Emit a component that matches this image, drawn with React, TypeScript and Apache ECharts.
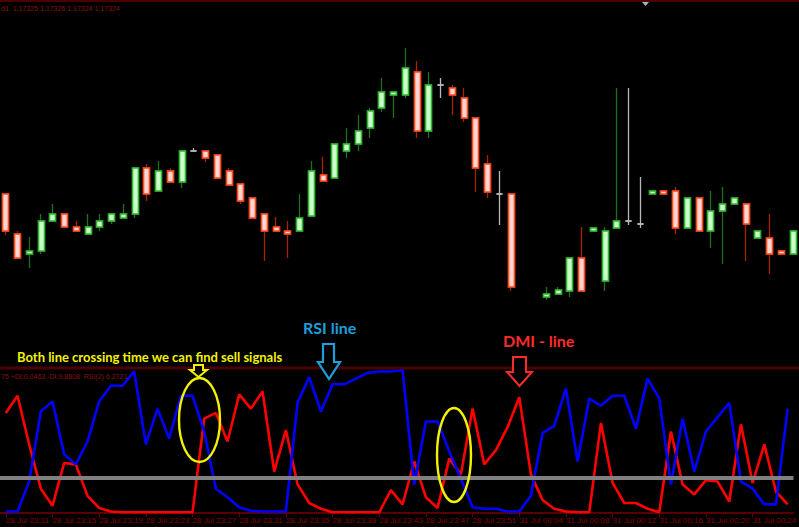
import React, { useEffect, useRef } from 'react';
import * as echarts from 'echarts';

const categories = [
  '28 Jul 23:11', '28 Jul 23:12', '28 Jul 23:13', '28 Jul 23:14', '28 Jul 23:15', '28 Jul 23:16', '28 Jul 23:17', '28 Jul 23:18',
  '28 Jul 23:19', '28 Jul 23:20', '28 Jul 23:21', '28 Jul 23:22', '28 Jul 23:23', '28 Jul 23:24', '28 Jul 23:25', '28 Jul 23:26',
  '28 Jul 23:27', '28 Jul 23:28', '28 Jul 23:29', '28 Jul 23:30', '28 Jul 23:31', '28 Jul 23:32', '28 Jul 23:33', '28 Jul 23:34',
  '28 Jul 23:35', '28 Jul 23:36', '28 Jul 23:37', '28 Jul 23:38', '28 Jul 23:39', '28 Jul 23:40', '28 Jul 23:41', '28 Jul 23:42',
  '28 Jul 23:43', '28 Jul 23:44', '28 Jul 23:45', '28 Jul 23:46', '28 Jul 23:47', '28 Jul 23:48', '28 Jul 23:49', '28 Jul 23:50',
  '28 Jul 23:51', '28 Jul 23:52', '28 Jul 23:53', '28 Jul 23:54',
  '31 Jul 00:04', '31 Jul 00:05', '31 Jul 00:06', '31 Jul 00:07', '31 Jul 00:08', '31 Jul 00:09', '31 Jul 00:10', '31 Jul 00:11',
  '31 Jul 00:12', '31 Jul 00:13', '31 Jul 00:14', '31 Jul 00:15', '31 Jul 00:16', '31 Jul 00:17', '31 Jul 00:18', '31 Jul 00:19',
  '31 Jul 00:20', '31 Jul 00:21', '31 Jul 00:22', '31 Jul 00:23', '31 Jul 00:24', '31 Jul 00:25', '31 Jul 00:26', '31 Jul 00:27',
];

// [open, close, low, high]
const candles: (number[] | null)[] = [
  [1.17361, 1.17324, 1.1732, 1.17361],
  [1.17321, 1.17297, 1.17297, 1.17324],
  [1.17301, 1.17304, 1.17287, 1.17318],
  [1.17304, 1.17334, 1.17301, 1.17341],
  [1.17334, 1.17341, 1.17334, 1.17351],
  [1.17341, 1.17328, 1.17328, 1.17341],
  [1.17328, 1.17324, 1.17324, 1.17334],
  [1.17321, 1.17328, 1.17321, 1.17341],
  [1.17328, 1.17334, 1.17324, 1.17341],
  [1.17334, 1.17341, 1.17331, 1.17341],
  [1.17337, 1.17341, 1.17337, 1.17351],
  [1.17341, 1.17387, 1.17337, 1.17387],
  [1.17387, 1.17361, 1.17354, 1.17391],
  [1.17364, 1.17384, 1.17364, 1.17394],
  [1.17384, 1.17373, 1.17373, 1.17387],
  [1.17373, 1.17404, 1.17367, 1.17404],
  [1.17404, 1.17404, 1.17404, 1.17407],
  [1.17404, 1.17397, 1.17393, 1.17404],
  [1.174, 1.17377, 1.17377, 1.174],
  [1.17384, 1.1737, 1.1737, 1.17387],
  [1.17371, 1.17354, 1.17351, 1.17371],
  [1.17357, 1.17337, 1.17337, 1.17357],
  [1.17341, 1.17324, 1.17294, 1.17341],
  [1.17328, 1.17324, 1.17324, 1.17338],
  [1.17324, 1.17321, 1.17297, 1.17334],
  [1.17324, 1.17337, 1.17324, 1.17361],
  [1.17339, 1.17384, 1.17339, 1.17394],
  [1.1738, 1.17374, 1.17374, 1.17398],
  [1.17377, 1.17411, 1.17377, 1.17411],
  [1.17404, 1.17411, 1.17397, 1.17427],
  [1.17411, 1.17424, 1.17404, 1.1744],
  [1.17427, 1.17444, 1.17417, 1.17447],
  [1.17447, 1.17463, 1.17443, 1.17477],
  [1.1746, 1.17463, 1.17437, 1.17463],
  [1.1746, 1.17487, 1.17457, 1.17507],
  [1.17483, 1.17424, 1.17417, 1.17494],
  [1.17424, 1.1747, 1.17417, 1.17483],
  [1.1747, 1.1747, 1.17457, 1.17477],
  [1.17467, 1.1746, 1.1744, 1.1747],
  [1.17457, 1.17437, 1.17433, 1.17467],
  [1.17437, 1.17387, 1.17363, 1.17437],
  [1.17391, 1.17363, 1.17357, 1.174],
  [1.17361, 1.17361, 1.1733, 1.17384],
  [1.17361, 1.17268, 1.17264, 1.17361],
  null,
  null,
  [1.17258, 1.17261, 1.17255, 1.17268],
  [1.17261, 1.17265, 1.17261, 1.17268],
  [1.17264, 1.17297, 1.17258, 1.17297],
  [1.17297, 1.17264, 1.17264, 1.17328],
  [1.17324, 1.17327, 1.17324, 1.17327],
  [1.17274, 1.17324, 1.17264, 1.17328],
  [1.17327, 1.17334, 1.17327, 1.17467],
  [1.17334, 1.17334, 1.1733, 1.17467],
  [1.17331, 1.17331, 1.17327, 1.17378],
  [1.17361, 1.17364, 1.17361, 1.17364],
  [1.17364, 1.17361, 1.17361, 1.17364],
  [1.17364, 1.17327, 1.17321, 1.17368],
  [1.17327, 1.17357, 1.17327, 1.17357],
  [1.17357, 1.17324, 1.17324, 1.17357],
  [1.17324, 1.17344, 1.17307, 1.17364],
  [1.17344, 1.17351, 1.17291, 1.17368],
  [1.17351, 1.17357, 1.17351, 1.17357],
  [1.17351, 1.17331, 1.17294, 1.17351],
  [1.17317, 1.17324, 1.17317, 1.17324],
  [1.17317, 1.17301, 1.17281, 1.17341],
  [1.17304, 1.17301, 1.17301, 1.17304],
  [1.17301, 1.17324, 1.17301, 1.17324],
];

// RSI(2) — blue line
const rsiValues = [
  1, 1, 22, 71, 78, 41, 34, 50, 78, 89, 89, 99, 48, 73, 52, 82, 82, 57, 17, 11,
  4, 1.5, 1, 1, 1, 77, 95, 71, 90, 90, 94, 98, 99, 99, 100, 20, 64, 64, 43, 24,
  4, 3, 3, 1, 1, 12, 56, 61, 87, 36, 80, 75, 82, 82, 59, 94, 80, 20, 66, 29,
  57, 67, 77, 22, 17, 6, 6, 73,
];

// DMI — red line
const dmiValues = [
  70, 82, 48, 17, 5, 35, 34, 12, 3.5, 1, 0.5, 0.5, 0.5, 0.5, 0.5, 0.5, 0.5, 66, 70, 50,
  83, 73, 85, 29, 58, 20, 7, 3, 0.5, 0.5, 0.5, 0.5, 0.5, 16, 6, 36, 11, 3.5, 38, 27,
  73, 34, 44, 60, 81, 27, 9, 3, 1, 0.5, 0.5, 63, 21, 7, 7, 3, 0.5, 57, 20, 13,
  23, 22, 8, 62, 21, 48, 15, 6,
];

const levels = [25];

const headerText = 'd1  1.17325 1.17326 1.17324 1.17324';
const indicatorText = '75 +DI:0.0463 -DI:9.8808  RSI(2) 6.2721';
const noteText = 'Both line crossing time we can find sell signals';
const rsiNote = 'RSI line';
const dmiNote = 'DMI - line';

const DOJI = '#b8b8b8';

function downArrow(sL: number, sR: number, yT: number, yH: number, hL: number, hR: number, tx: number, yB: number) {
  return [[sL, yT], [sR, yT], [sR, yH], [hR, yH], [tx, yB], [hL, yH], [sL, yH]];
}

export default function App() {
  const ref = useRef<HTMLDivElement>(null);
  useEffect(() => {
    const chart = echarts.init(ref.current!, null, { renderer: 'svg' });

    const wickData = candles.map((c) => {
      if (!c) return ['-', '-', '-', '-'];
      if (c[0] === c[1]) {
        return { value: c, itemStyle: { color: DOJI, color0: DOJI, borderColor: DOJI, borderColor0: DOJI } };
      }
      return c;
    });
    const bodyData = candles.map((c) => {
      if (!c) return ['-', '-', '-', '-'];
      const v = [c[0], c[1], Math.min(c[0], c[1]), Math.max(c[0], c[1])];
      if (c[0] === c[1]) {
        return { value: v, itemStyle: { color: DOJI, color0: DOJI, borderColor: DOJI, borderColor0: DOJI } };
      }
      return v;
    });

    const fontSans = '"Liberation Sans", Arial, sans-serif';
    const annFont = 'Lato, "Open Sans", sans-serif';

    const option: any = {
      animation: false,
      backgroundColor: '#000000',
      grid: [
        { left: -3, width: 806, top: 0, height: 368 },
        { left: -3, width: 806, top: 370, height: 143 },
      ],
      xAxis: [
        { type: 'category', gridIndex: 0, data: categories, show: false, boundaryGap: true },
        {
          type: 'category',
          gridIndex: 1,
          data: categories,
          boundaryGap: true,
          axisLine: { show: true, lineStyle: { color: '#5a0000', width: 2 } },
          axisTick: { show: true, interval: 3, alignWithLabel: true, length: 4, lineStyle: { color: '#6b0000' } },
          axisLabel: {
            show: true,
            interval: 3,
            color: '#8b0000',
            fontSize: 8,
            fontFamily: fontSans,
            align: 'left',
            margin: 3,
          },
          splitLine: { show: false },
        },
      ],
      yAxis: [
        { type: 'value', gridIndex: 0, min: 1.17187, max: 1.17555, show: false, splitLine: { show: false } },
        { type: 'value', gridIndex: 1, min: 0, max: 100, show: false, splitLine: { show: false } },
      ],
      series: [
        {
          type: 'candlestick',
          xAxisIndex: 0,
          yAxisIndex: 0,
          data: wickData,
          barWidth: 6.5,
          silent: true,
          itemStyle: {
            color: '#ccffcc',
            color0: '#ffd4d4',
            borderColor: '#1d701d',
            borderColor0: '#a82400',
            borderColorDoji: DOJI,
            borderWidth: 1.3,
          },
          z: 2,
        },
        {
          type: 'candlestick',
          xAxisIndex: 0,
          yAxisIndex: 0,
          data: bodyData,
          barWidth: 6.5,
          silent: true,
          itemStyle: {
            color: '#ccffcc',
            color0: '#ffd4d4',
            borderColor: '#2fb82f',
            borderColor0: '#ff4a1a',
            borderColorDoji: DOJI,
            borderWidth: 1.6,
          },
          z: 3,
        },
        {
          type: 'line',
          name: 'DMI',
          xAxisIndex: 1,
          yAxisIndex: 1,
          data: dmiValues,
          symbol: 'none',
          silent: true,
          lineStyle: { color: '#ff0000', width: 2.6 },
          z: 2,
        },
        {
          type: 'line',
          name: 'RSI',
          xAxisIndex: 1,
          yAxisIndex: 1,
          data: rsiValues,
          symbol: 'none',
          silent: true,
          lineStyle: { color: '#0000ff', width: 2.6 },
          z: 3,
          markLine: {
            silent: true,
            symbol: 'none',
            label: { show: false },
            lineStyle: { color: '#808080', width: 4, type: 'solid' },
            data: levels.map((v) => ({ yAxis: v })),
            z: 5,
          },
        },
      ],
      graphic: [
        { type: 'rect', z: 100, shape: { x: 0, y: 0, width: 799, height: 2 }, style: { fill: '#4d0000' } },
        { type: 'rect', z: 100, shape: { x: 0, y: 366.5, width: 799, height: 3 }, style: { fill: '#4d0000' } },
        {
          type: 'polygon', z: 100,
          shape: { points: [[642, 2], [649, 2], [645.5, 6]] },
          style: { fill: '#9fb4cc' },
        },
        {
          type: 'text', z: 100, x: 1, y: 8,
          style: { text: headerText, fill: '#8b1010', font: '7px ' + fontSans, textAlign: 'left', textVerticalAlign: 'middle', align: 'left', verticalAlign: 'middle' },
        },
        {
          type: 'text', z: 100, x: 1, y: 376,
          style: { text: indicatorText, fill: '#8b1010', font: '7px ' + fontSans, textAlign: 'left', textVerticalAlign: 'middle', align: 'left', verticalAlign: 'middle' },
        },
        {
          type: 'text', z: 100, x: 17, y: 357,
          style: { text: noteText, fill: '#f2f200', font: 'bold 13px ' + annFont, textAlign: 'left', textVerticalAlign: 'middle', align: 'left', verticalAlign: 'middle' },
        },
        {
          type: 'text', z: 100, x: 303, y: 327,
          style: { text: rsiNote, fill: '#1e9fdc', font: 'bold 16px ' + annFont, textAlign: 'left', textVerticalAlign: 'middle', align: 'left', verticalAlign: 'middle' },
        },
        {
          type: 'text', z: 100, x: 503, y: 340,
          style: { text: dmiNote, fill: '#ff2b2b', font: 'bold 16px ' + annFont, textAlign: 'left', textVerticalAlign: 'middle', align: 'left', verticalAlign: 'middle' },
        },
        {
          type: 'polygon', z: 100,
          shape: { points: downArrow(194, 203, 365, 370, 190, 207, 198.5, 377) },
          style: { fill: '#000000', stroke: '#f2f200', lineWidth: 2 },
        },
        {
          type: 'polygon', z: 100,
          shape: { points: downArrow(323, 334, 344, 362, 318, 340, 329, 379) },
          style: { fill: '#000000', stroke: '#1e9fdc', lineWidth: 2.2 },
        },
        {
          type: 'polygon', z: 100,
          shape: { points: downArrow(513, 526, 357, 372, 507, 532, 519.5, 386) },
          style: { fill: '#000000', stroke: '#ff2b2b', lineWidth: 2 },
        },
        {
          type: 'ellipse', z: 100,
          shape: { cx: 199.5, cy: 420, rx: 20.5, ry: 42 },
          style: { fill: 'none', stroke: '#f2f200', lineWidth: 2.4 },
        },
        {
          type: 'ellipse', z: 100,
          shape: { cx: 454, cy: 455, rx: 17, ry: 47 },
          style: { fill: 'none', stroke: '#f2f200', lineWidth: 2.4 },
        },
      ],
    };

    chart.setOption(option);
    return () => chart.dispose();
  }, []);

  return (
    <div
      ref={ref}
      style={{ position: 'fixed', left: 0, top: 0, width: 799, height: 527, background: '#000000' }}
    />
  );
}
